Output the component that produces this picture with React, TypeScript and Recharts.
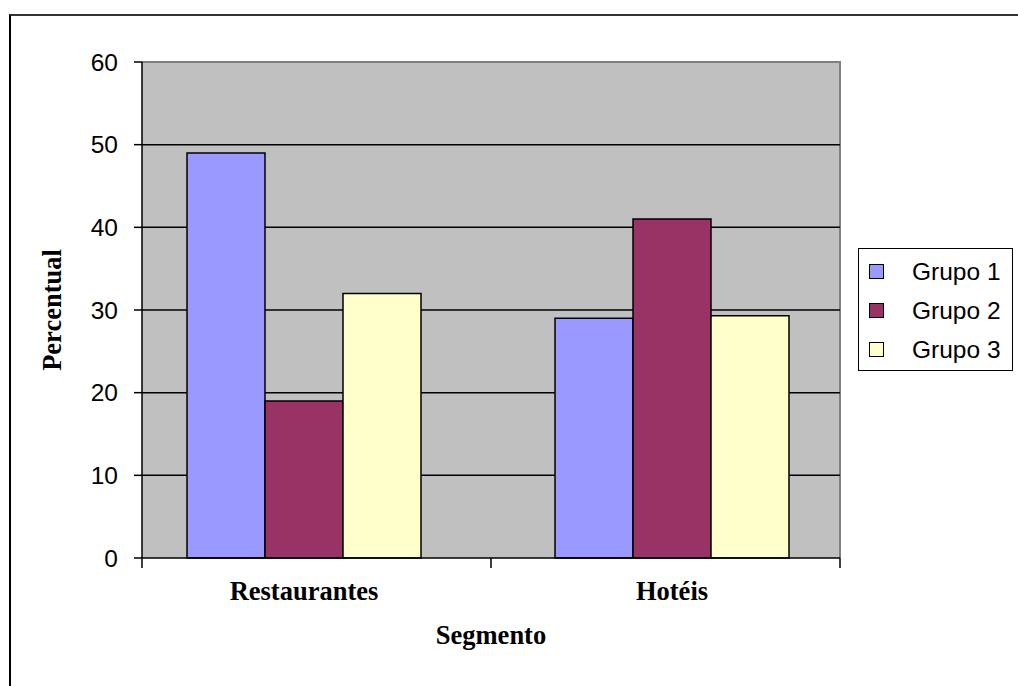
import React from 'react';
import { BarChart, Bar, XAxis, YAxis, CartesianGrid } from 'recharts';

// Survey share (%) by segment and group
const segments = ['Restaurantes', 'Hotéis'];
const grupo1 = [49, 29];
const grupo2 = [19, 41];
const grupo3 = [32, 29.3];
const yTicks = [0, 10, 20, 30, 40, 50, 60];

const series = [
  { key: 'g1', name: 'Grupo 1', color: '#9999FF', values: grupo1 },
  { key: 'g2', name: 'Grupo 2', color: '#993366', values: grupo2 },
  { key: 'g3', name: 'Grupo 3', color: '#FFFFCC', values: grupo3 },
];

const data = segments.map((seg, i) => {
  const row: Record<string, string | number> = { segment: seg };
  series.forEach((s) => {
    row[s.key] = s.values[i];
  });
  return row;
});

const SANS = 'Arial, "Liberation Sans", sans-serif';
const SERIF = '"Times New Roman", "Liberation Serif", serif';

const W = 1018;
const H = 686;
const M = { top: 62, right: 178, bottom: 0, left: 0 };
const Y_W = 142;
const X_H = 128;
const plotLeft = M.left + Y_W;
const plotW = W - M.left - M.right - Y_W;
const plotH = H - M.top - M.bottom - X_H;

// Category label; tick marks sit on the plot edges and the divider between segments
const CategoryTick = (props: any) => {
  const { x, y, payload, index } = props;
  const marks =
    index === 0 ? [plotLeft, plotLeft + plotW / 2] : index === segments.length - 1 ? [plotLeft + plotW] : [];
  return (
    <g>
      {marks.map((mx) => (
        <line key={mx} x1={mx} y1={y - 8} x2={mx} y2={y + 2} stroke="#000" strokeWidth={1.5} />
      ))}
      <text
        x={x}
        y={y + 34}
        textAnchor="middle"
        fontFamily={SERIF}
        fontWeight="bold"
        fontSize={26.5}
        fill="#000"
      >
        {payload.value}
      </text>
    </g>
  );
};

const LegendBox = () => (
  <div
    style={{
      position: 'absolute',
      left: 858,
      top: 248,
      border: '1.5px solid #000',
      background: '#fff',
      width: 155,
      height: 123,
      padding: '3px 0',
      boxSizing: 'border-box',
    }}
  >
    {series.map((s) => (
      <div
        key={s.key}
        style={{
          display: 'flex',
          alignItems: 'center',
          height: 39,
          fontFamily: SANS,
          fontSize: 24.5,
          color: '#000',
        }}
      >
        <span
          style={{
            display: 'inline-block',
            width: 13,
            height: 13,
            background: s.color,
            border: '1.5px solid #000',
            marginLeft: 10,
            marginRight: 28,
          }}
        />
        {s.name}
      </div>
    ))}
  </div>
);

export default function App() {
  return (
    <div style={{ position: 'absolute', left: 0, top: 0, width: W, height: H, background: '#fff', overflow: 'hidden' }}>
      <div
        style={{
          position: 'absolute',
          left: 9,
          top: 14,
          width: W,
          height: H,
          borderLeft: '2px solid #000',
          borderTop: '2px solid #333',
          boxSizing: 'border-box',
        }}
      />
      {/* grey frame of the plot area, under the chart's own axes */}
      <div
        style={{
          position: 'absolute',
          left: plotLeft,
          top: M.top - 1,
          width: plotW + 1,
          height: plotH + 1,
          borderTop: '2px solid #808080',
          borderRight: '2px solid #808080',
          background: '#C0C0C0',
          boxSizing: 'border-box',
        }}
      />
      <BarChart
        width={W}
        height={H}
        data={data}
        margin={M}
        barCategoryGap={67}
        barGap={0}
        style={{ position: 'absolute', left: 0, top: 0 }}
      >
        <CartesianGrid
          vertical={false}
          horizontalValues={[10, 20, 30, 40, 50]}
          stroke="#000"
          strokeWidth={1.5}
        />
        <XAxis
          dataKey="segment"
          height={X_H}
          padding={{ left: -22, right: -16 }}
          tickLine={false}
          axisLine={{ stroke: '#000', strokeWidth: 1.5 }}
          tick={<CategoryTick />}
          interval={0}
          label={{
            value: 'Segmento',
            position: 'insideBottom',
            offset: 42,
            fontFamily: SERIF,
            fontWeight: 'bold',
            fontSize: 26.5,
            fill: '#000',
          }}
        />
        <YAxis
          width={Y_W}
          domain={[0, 60]}
          ticks={yTicks}
          interval={0}
          tickSize={8}
          tickMargin={16}
          tickLine={{ stroke: '#000', strokeWidth: 1.5 }}
          axisLine={{ stroke: '#000', strokeWidth: 1.5 }}
          tick={{ fontFamily: SANS, fontSize: 24.5, fill: '#000' }}
          label={{
            value: 'Percentual',
            angle: -90,
            position: 'insideLeft',
            offset: 52,
            fontFamily: SERIF,
            fontWeight: 'bold',
            fontSize: 26.5,
            fill: '#000',
            style: { textAnchor: 'middle' },
          }}
        />
        {series.map((s) => (
          <Bar
            key={s.key}
            dataKey={s.key}
            name={s.name}
            fill={s.color}
            stroke="#000"
            strokeWidth={1.5}
            isAnimationActive={false}
          />
        ))}
      </BarChart>
      <LegendBox />
    </div>
  );
}
